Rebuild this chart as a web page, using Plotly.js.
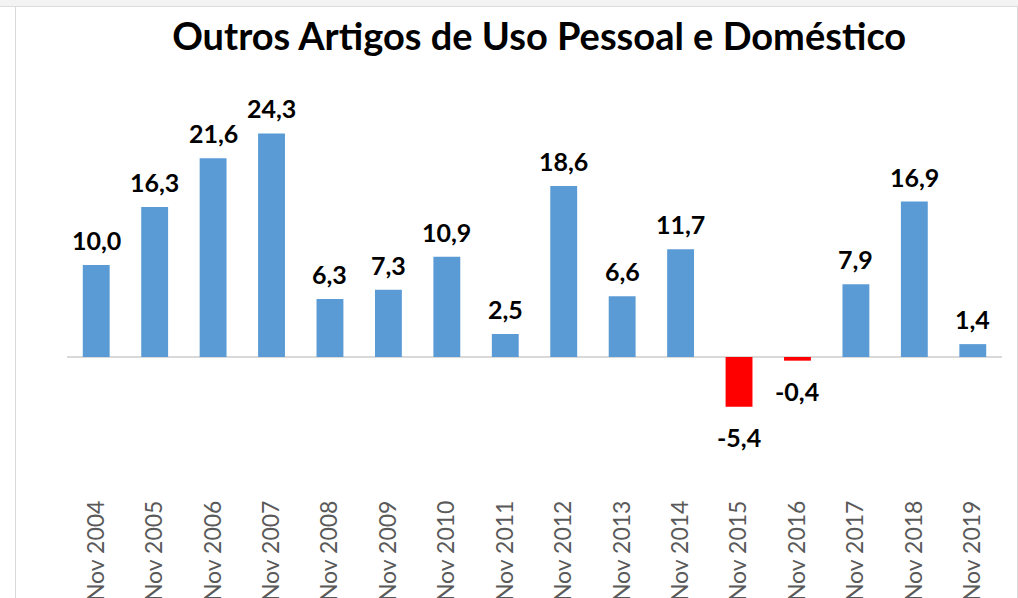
<!DOCTYPE html>
<html><head><meta charset="utf-8">
<script src="https://cdn.plot.ly/plotly-3.0.1.min.js"></script>
<style>
html,body{margin:0;padding:0;width:1018px;height:598px;overflow:hidden;background:#fff;}
#topstrip{position:absolute;left:0;top:0;width:1018px;height:6px;background:#f3f3f3;border-bottom:1px solid #dcdcdc;}
#frame{position:absolute;left:15px;top:6px;width:1001px;height:620px;border-left:1px solid #d9d9d9;border-right:1px solid #d9d9d9;pointer-events:none;}
#chart{position:absolute;left:0;top:0;width:1018px;height:650px;}
</style></head>
<body>
<div id="chart"></div>
<div id="topstrip"></div>
<div id="frame"></div>
<script>
const categories = ["Nov 2004","Nov 2005","Nov 2006","Nov 2007","Nov 2008","Nov 2009","Nov 2010","Nov 2011","Nov 2012","Nov 2013","Nov 2014","Nov 2015","Nov 2016","Nov 2017","Nov 2018","Nov 2019"];
const values = [10.0,16.3,21.6,24.3,6.3,7.3,10.9,2.5,18.6,6.6,11.7,-5.4,-0.4,7.9,16.9,1.4];
const valueLabels = ["10,0","16,3","21,6","24,3","6,3","7,3","10,9","2,5","18,6","6,6","11,7","-5,4","-0,4","7,9","16,9","1,4"];
const titleText = "Outros Artigos de Uso Pessoal e Doméstico";

const colors = values.map(v => v < 0 ? "#FF0000" : "#5B9BD5");

const trace = {
  type: "bar",
  x: categories,
  y: values,
  marker: {color: colors},
  hoverinfo: "x+y"
};

const annotations = categories.map((c, i) => ({
  x: c, y: values[i], xref: "x", yref: "y",
  text: "<b>" + valueLabels[i] + "</b>",
  showarrow: false,
  yanchor: values[i] < 0 ? "top" : "bottom",
  yshift: values[i] < 0 ? -13 : 8,
  font: {family: "Lato, 'Open Sans', sans-serif", size: 25, color: "#000"}
}));

const H = 650;
const layout = {
  width: 1018, height: H,
  margin: {l: 67, r: 16, t: 81, b: H - 495},
  paper_bgcolor: "rgba(0,0,0,0)",
  plot_bgcolor: "rgba(0,0,0,0)",
  bargap: 0.54,
  showlegend: false,
  title: {
    text: "<b>" + titleText + "</b>",
    font: {family: "Lato, 'Open Sans', sans-serif", size: 38, color: "#000"},
    xref: "paper", x: 0.505, xanchor: "center",
    yref: "container", y: (H - 37) / H, yanchor: "middle"
  },
  xaxis: {
    type: "category",
    tickangle: -90,
    tickfont: {family: "Lato, 'Open Sans', sans-serif", size: 23, color: "#595959"},
    showline: false, showgrid: false, ticks: "", zeroline: false
  },
  yaxis: {
    range: [-15, 30],
    showticklabels: false, showgrid: false, ticks: "",
    zeroline: true, zerolinecolor: "#d9d9d9", zerolinewidth: 2,
    showline: false
  },
  annotations: annotations
};

Plotly.newPlot("chart", [trace], layout, {displayModeBar: false, staticPlot: true});
</script>
</body></html>
